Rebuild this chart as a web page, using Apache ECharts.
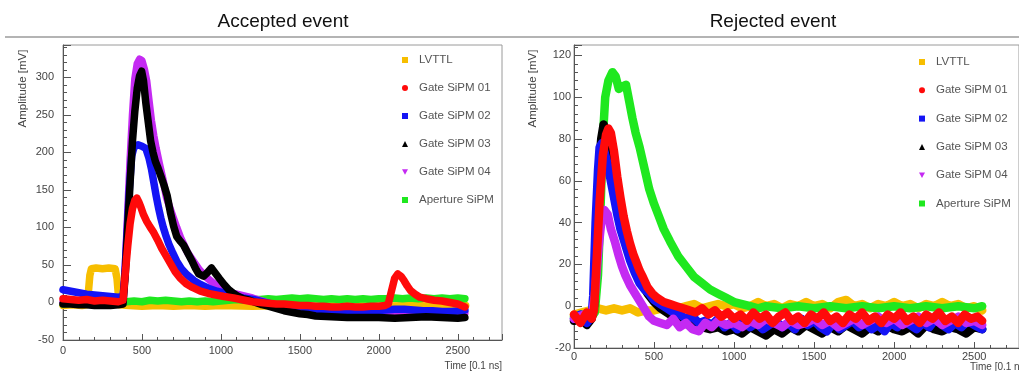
<!DOCTYPE html>
<html>
<head>
<meta charset="utf-8">
<script src="https://cdn.jsdelivr.net/npm/echarts@6/dist/echarts.min.js"></script>
<style>
  html, body { margin: 0; padding: 0; background: #ffffff; }
  #chart { width: 1019px; height: 371px; }
</style>
</head>
<body>
<div id="chart"></div>
<script>
// Channel names, in legend order
const channelNames = ['LVTTL', 'Gate SiPM 01', 'Gate SiPM 02', 'Gate SiPM 03', 'Gate SiPM 04', 'Aperture SiPM'];
const panelTitles = ['Accepted event', 'Rejected event'];
const yAxisTitle = 'Amplitude [mV]';
const xAxisTitle = 'Time [0.1 ns]';

// Waveforms: [time in 0.1 ns, amplitude in mV]
// ---- Accepted event ----
const acceptedLVTTL = [[0,-4],[60,-3],[120,-4],[150,-3],[160,12],[170,36],[180,45],[210,46],[250,45],[290,46],[330,45],[342,32],[350,12],[358,-3],[420,-4],[500,-5],[600,-4],[700,-5],[800,-4],[900,-5],[1000,-4],[1200,-5],[1400,-4],[1600,-5],[1800,-4],[2000,-5],[2200,-4],[2400,-5],[2550,-4]];
const acceptedGate01 = [[0,5],[50,4],[100,3],[150,4],[200,2],[250,3],[300,2],[350,1],[380,3],[395,40],[410,75],[425,105],[440,125],[455,136],[468,139],[480,134],[495,126],[510,117],[530,108],[550,101],[575,93],[600,83],[625,72],[650,63],[680,52],[710,41],[740,33],[780,25],[820,20],[870,15],[920,12],[970,10],[1020,8],[1080,6],[1150,3],[1200,1],[1250,0],[1300,-1],[1350,-2],[1400,-2],[1450,-3],[1500,-4],[1550,-4],[1600,-5],[1650,-5],[1700,-6],[1750,-6],[1800,-5],[1850,-6],[1900,-6],[1950,-5],[2000,-5],[2040,-4],[2060,-2],[2080,15],[2100,32],[2120,38],[2140,35],[2160,29],[2180,22],[2200,16],[2230,11],[2260,7],[2300,5],[2350,3],[2400,2],[2450,0],[2500,-2],[2545,-6]];
const acceptedGate02 = [[0,17],[50,15],[100,13],[150,11],[200,10],[250,9],[300,8],[350,7],[380,8],[390,30],[405,90],[420,150],[435,195],[450,207],[475,210],[500,208],[525,205],[545,192],[560,178],[575,160],[590,142],[605,126],[620,112],[635,100],[650,90],[670,78],[695,66],[720,55],[750,45],[785,37],[830,29],[870,24],[920,19],[975,15],[1030,12],[1080,9],[1140,6],[1205,4],[1260,1],[1320,-2],[1380,-5],[1440,-7],[1500,-9],[1560,-10],[1620,-11],[1680,-12],[1740,-13],[1800,-12],[1860,-11],[1920,-12],[1980,-11],[2040,-10],[2100,-9],[2160,-9],[2220,-10],[2280,-11],[2340,-11],[2400,-12],[2460,-12],[2520,-11],[2545,-10]];
const acceptedGate03 = [[0,-2],[50,-2],[100,-3],[150,-3],[200,-4],[250,-4],[300,-4],[350,-3],[380,-2],[395,40],[410,100],[425,160],[440,215],[455,255],[470,285],[485,302],[498,308],[510,295],[525,265],[540,240],[555,215],[570,200],[585,188],[600,180],[620,168],[640,156],[660,142],[680,120],[700,102],[720,88],[745,81],[765,76],[790,66],[815,56],[840,45],[860,38],[890,35],[915,40],[940,46],[965,39],[990,32],[1020,24],[1050,17],[1080,12],[1110,8],[1140,5],[1180,3],[1220,0],[1260,-3],[1300,-5],[1350,-8],[1400,-11],[1450,-13],[1500,-15],[1550,-16],[1600,-18],[1700,-19],[1800,-20],[1900,-20],[2000,-20],[2100,-21],[2200,-20],[2300,-19],[2400,-20],[2500,-21],[2545,-20]];
const acceptedGate04 = [[0,0],[100,-1],[200,-1],[300,-2],[380,0],[395,50],[410,120],[425,190],[440,250],[455,298],[470,318],[485,324],[500,322],[515,311],[530,295],[545,268],[560,242],[575,222],[590,205],[610,185],[635,162],[655,140],[677,126],[700,112],[720,100],[745,86],[765,77],[790,66],[825,55],[865,43],[910,33],[950,26],[995,20],[1040,15],[1080,12],[1140,9],[1200,6],[1260,2],[1320,-2],[1400,-5],[1500,-8],[1600,-10],[1700,-12],[1800,-13],[1900,-13],[2000,-14],[2100,-14],[2200,-15],[2300,-14],[2400,-15],[2500,-14],[2545,-14]];
const acceptedAperture = [[0,-2],[50,-1],[100,-2],[150,-1],[200,-2],[250,-1],[300,-1],[350,0],[400,1],[450,2],[500,1],[550,3],[600,2],[650,3],[700,2],[750,1],[800,2],[850,1],[900,2],[950,1],[1000,2],[1050,3],[1100,4],[1150,3],[1200,4],[1250,4],[1300,5],[1350,4],[1400,5],[1450,6],[1500,5],[1550,6],[1600,5],[1650,4],[1700,5],[1750,4],[1800,5],[1850,4],[1900,5],[1950,4],[2000,5],[2050,5],[2100,6],[2150,5],[2200,6],[2250,5],[2300,6],[2350,5],[2400,6],[2450,5],[2500,6],[2545,5]];

// ---- Rejected event ----
const rejectedLVTTL = [[0,-4],[50,-3],[100,-2],[150,-1],[200,-2],[250,-1],[300,-2],[350,-1],[400,-3],[450,-2],[500,-2],[550,-1],[600,0],[650,-1],[700,0],[750,1],[800,-1],[850,0],[900,1],[950,0],[1000,1],[1050,-1],[1100,0],[1150,2],[1200,0],[1250,1],[1300,-1],[1350,1],[1400,0],[1450,2],[1500,0],[1550,1],[1600,-1],[1650,2],[1700,3],[1750,0],[1800,1],[1850,-1],[1900,1],[1950,0],[2000,2],[2050,0],[2100,1],[2150,-1],[2200,1],[2250,0],[2300,2],[2350,0],[2400,1],[2450,-1],[2500,0],[2550,-2]];
const rejectedGate01 = [[0,-4],[40,-8],[80,-3],[110,-6],[125,-2],[140,20],[160,50],[180,72],[200,82],[215,85],[230,83],[250,74],[270,62],[290,52],[310,43],[330,36],[350,30],[370,25],[390,21],[410,17],[430,14],[460,9],[490,6],[520,4],[560,2],[600,1],[640,0],[680,-1],[720,-2],[760,-3],[800,-1],[840,-4],[880,-2],[920,-5],[960,-3],[1000,-6],[1040,-4],[1080,-7],[1120,-3],[1160,-6],[1200,-4],[1240,-8],[1280,-5],[1320,-3],[1360,-7],[1400,-5],[1440,-8],[1480,-4],[1520,-6],[1560,-3],[1600,-7],[1640,-5],[1680,-8],[1720,-4],[1760,-6],[1800,-3],[1840,-7],[1880,-5],[1920,-8],[1960,-4],[2000,-6],[2040,-3],[2080,-7],[2120,-5],[2160,-8],[2200,-4],[2240,-6],[2280,-3],[2320,-7],[2360,-5],[2400,-8],[2440,-4],[2480,-6],[2520,-5],[2550,-7]];
const rejectedGate02 = [[0,-6],[40,-4],[80,-8],[110,-5],[120,5],[135,40],[150,65],[160,76],[175,78],[190,74],[210,68],[230,60],[250,52],[270,44],[290,37],[310,32],[330,27],[350,22],[380,16],[410,11],[440,8],[470,6],[500,3],[540,1],[580,-1],[620,-3],[660,-4],[700,-6],[740,-5],[780,-8],[820,-7],[860,-9],[900,-6],[940,-10],[980,-8],[1020,-11],[1060,-7],[1100,-10],[1140,-8],[1180,-11],[1220,-9],[1260,-7],[1300,-10],[1340,-8],[1380,-11],[1420,-6],[1460,-9],[1500,-7],[1540,-10],[1580,-12],[1620,-8],[1660,-11],[1700,-9],[1740,-7],[1780,-10],[1820,-8],[1860,-11],[1900,-9],[1940,-12],[1980,-8],[2020,-10],[2060,-7],[2100,-9],[2140,-11],[2180,-8],[2220,-10],[2260,-6],[2300,-9],[2340,-11],[2380,-8],[2420,-10],[2460,-7],[2500,-9],[2550,-11]];
const rejectedGate03 = [[0,-7],[40,-5],[80,-9],[110,-6],[125,0],[140,35],[155,65],[170,80],[185,87],[200,83],[220,72],[240,62],[260,52],[280,44],[300,38],[320,31],[340,26],[370,20],[400,14],[430,10],[460,6],[500,2],[540,-1],[580,-3],[620,-5],[660,-6],[700,-8],[750,-9],[800,-10],[850,-11],[900,-10],[950,-12],[1000,-11],[1050,-13],[1100,-10],[1150,-12],[1200,-14],[1250,-11],[1300,-13],[1350,-10],[1400,-12],[1450,-9],[1500,-11],[1550,-13],[1600,-10],[1650,-12],[1700,-9],[1750,-11],[1800,-13],[1850,-10],[1900,-12],[1950,-9],[2000,-11],[2050,-12],[2100,-10],[2150,-13],[2200,-9],[2250,-11],[2300,-12],[2350,-10],[2400,-11],[2450,-13],[2500,-10],[2550,-11]];
const rejectedGate04 = [[0,-6],[60,-4],[110,-5],[130,5],[150,25],[170,40],[190,46],[210,44],[230,37],[255,31],[280,24],[300,19],[320,15],[350,10],[390,5],[430,0],[470,-5],[500,-7],[540,-8],[580,-9],[620,-6],[660,-10],[700,-8],[740,-11],[780,-12],[820,-8],[860,-10],[900,-7],[950,-9],[1000,-8],[1050,-10],[1100,-7],[1150,-9],[1200,-6],[1250,-8],[1300,-10],[1350,-7],[1400,-9],[1450,-8],[1500,-6],[1550,-9],[1600,-7],[1650,-10],[1700,-8],[1750,-6],[1800,-9],[1850,-7],[1900,-5],[1950,-8],[2000,-6],[2050,-9],[2100,-7],[2150,-5],[2200,-8],[2250,-6],[2300,-9],[2350,-7],[2400,-5],[2450,-8],[2500,-7],[2550,-9]];
const rejectedAperture = [[0,-5],[50,-4],[100,-6],[130,-3],[150,15],[165,45],[180,80],[195,100],[215,108],[240,112],[260,110],[280,104],[300,105],[325,106],[345,98],[365,90],[385,83],[410,76],[440,66],[470,56],[500,49],[530,43],[560,37],[600,31],[650,24],[700,19],[750,14],[800,11],[850,8],[900,6],[950,4],[1000,2],[1050,1],[1100,0],[1150,-1],[1200,0],[1300,-1],[1400,0],[1500,-1],[1600,0],[1700,-1],[1800,0],[1900,-1],[2000,0],[2100,-1],[2200,0],[2300,-1],[2400,0],[2500,-1],[2550,0]];

// Axis tick steps and ranges
const timeRange = [0, 2780];
const timeStep = 500;
const ampRanges = [[-50, 343], [-20, 125]];
const ampSteps = [50, 20];

const panels = [
  { LVTTL: acceptedLVTTL, g1: acceptedGate01, g2: acceptedGate02, g3: acceptedGate03, g4: acceptedGate04, ap: acceptedAperture },
  { LVTTL: rejectedLVTTL, g1: rejectedGate01, g2: rejectedGate02, g3: rejectedGate03, g4: rejectedGate04, ap: rejectedAperture }
];

const colors = {
  'LVTTL': '#f7be00',
  'Gate SiPM 01': '#ff0a0a',
  'Gate SiPM 02': '#1414f5',
  'Gate SiPM 03': '#000000',
  'Gate SiPM 04': '#c42af2',
  'Aperture SiPM': '#1fe81f'
};
const legendIcons = ['rect', 'circle', 'rect', 'triangle', 'path://M0,0L10,0L5,9Z', 'rect'];

const FONT = '"Liberation Sans", Arial, Helvetica, sans-serif';
const AXIS_COLOR = '#555';
const TEXT_COLOR = '#444';

// Layout of the two plot frames (pixels)
const grids = [
  { left: 63, top: 45, right: 517, bottom: 31 },
  { left: 574, top: 45, right: -3, bottom: 23 }
];

function trace(name, data, panel, width) {
  return {
    type: 'line', name, data,
    xAxisIndex: panel, yAxisIndex: panel,
    symbol: 'none', showSymbol: false,
    animation: false,
    clip: true,
    color: colors[name],
    lineStyle: { color: colors[name], width, join: 'round', cap: 'round' },
    emphasis: { disabled: true }
  };
}

const series = [];
panels.forEach((p, i) => {
  const w = i === 0 ? 7.5 : 8.5;
  series.push(trace('LVTTL', p.LVTTL, i, w));
  series.push(trace('Aperture SiPM', p.ap, i, w));
  if (i === 0) {
    series.push(trace('Gate SiPM 04', p.g4, i, w));
    series.push(trace('Gate SiPM 02', p.g2, i, w));
    series.push(trace('Gate SiPM 03', p.g3, i, w));
  } else {
    series.push(trace('Gate SiPM 03', p.g3, i, w));
    series.push(trace('Gate SiPM 02', p.g2, i, w));
    series.push(trace('Gate SiPM 04', p.g4, i, w));
  }
  series.push(trace('Gate SiPM 01', p.g1, i, w));
});

const xLabelMargin = [5, 3];
const yLabelMargin = [9, 3];

const option = {
  backgroundColor: '#ffffff',
  animation: false,
  title: panelTitles.map((t, i) => ({
    text: t,
    left: i === 0 ? 283 : 773,
    top: 12,
    padding: 0,
    textAlign: 'center',
    textStyle: { fontFamily: FONT, fontSize: 19, fontWeight: 'normal', color: '#111' }
  })),
  grid: grids.map(g => Object.assign({ show: true, borderColor: '#9a9a9a', borderWidth: 1, backgroundColor: 'transparent', containLabel: false }, g)),
  xAxis: [0, 1].map(i => ({
    type: 'value', gridIndex: i,
    min: timeRange[0], max: timeRange[1], interval: timeStep,
    axisLine: { show: true, onZero: false, lineStyle: { color: AXIS_COLOR, width: 1 } },
    axisTick: { show: true, inside: true, length: 6, lineStyle: { color: AXIS_COLOR } },
    minorTick: { show: true, splitNumber: 5, length: 3, lineStyle: { color: AXIS_COLOR } },
    splitLine: { show: false },
    axisLabel: {
      margin: xLabelMargin[i], fontSize: 11, color: TEXT_COLOR, fontFamily: FONT,
      showMaxLabel: false,
      formatter: v => (v % timeStep === 0 ? String(v) : '')
    }
  })),
  yAxis: [0, 1].map(i => ({
    type: 'value', gridIndex: i,
    min: ampRanges[i][0], max: ampRanges[i][1], interval: ampSteps[i],
    axisLine: { show: true, onZero: false, lineStyle: { color: AXIS_COLOR, width: 1 } },
    axisTick: { show: true, inside: true, length: 8, lineStyle: { color: AXIS_COLOR } },
    minorTick: { show: true, splitNumber: 5, length: 4, lineStyle: { color: AXIS_COLOR } },
    splitLine: { show: false },
    axisLabel: {
      margin: yLabelMargin[i], fontSize: 11, color: TEXT_COLOR, fontFamily: FONT,
      showMaxLabel: false,
      formatter: v => (v % ampSteps[i] === 0 ? String(v) : '')
    }
  })),
  legend: [0, 1].map(i => ({
    orient: 'vertical',
    left: i === 0 ? 402 : 919,
    top: i === 0 ? 54 : 56,
    padding: 0,
    itemWidth: 6,
    itemHeight: 6,
    itemGap: i === 0 ? 16 : 16.3,
    selectedMode: false,
    textStyle: { fontFamily: FONT, fontSize: 11.5, color: '#555', padding: [0, 0, 0, 6] },
    data: channelNames.map((n, k) => ({ name: n, icon: legendIcons[k], itemStyle: { color: colors[n] } }))
  })),
  graphic: [
    { type: 'line', shape: { x1: 5, y1: 37, x2: 1019, y2: 37 }, style: { stroke: '#b4b4b4', lineWidth: 2 }, silent: true },
    { type: 'text', x: 22.5, y: 88.5, rotation: Math.PI / 2,
      style: { text: yAxisTitle, fontFamily: FONT, fontSize: 11.5, fill: TEXT_COLOR, align: 'center', verticalAlign: 'middle' }, silent: true },
    { type: 'text', x: 533, y: 88.5, rotation: Math.PI / 2,
      style: { text: yAxisTitle, fontFamily: FONT, fontSize: 11.5, fill: TEXT_COLOR, align: 'center', verticalAlign: 'middle' }, silent: true },
    { type: 'text', x: 502, y: 366.5,
      style: { text: xAxisTitle, fontFamily: FONT, fontSize: 10, fill: TEXT_COLOR, align: 'right', verticalAlign: 'middle' }, silent: true },
    { type: 'text', x: 970, y: 367,
      style: { text: xAxisTitle, fontFamily: FONT, fontSize: 10, fill: TEXT_COLOR, align: 'left', verticalAlign: 'middle' }, silent: true }
  ],
  series
};

const chart = echarts.init(document.getElementById('chart'), null, { renderer: 'canvas' });
chart.setOption(option);
</script>
</body>
</html>
